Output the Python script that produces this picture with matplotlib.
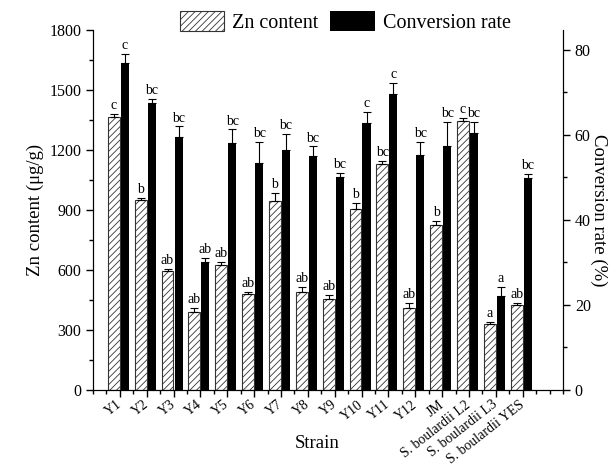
import matplotlib
matplotlib.use("Agg")
import matplotlib.pyplot as plt
import matplotlib.transforms as mtrans
import numpy as np
from matplotlib.ticker import MultipleLocator

plt.rcParams['font.family'] = ['Liberation Serif', 'DejaVu Serif']
plt.rcParams['hatch.linewidth'] = 0.6

# Data
strains = ["Y1", "Y2", "Y3", "Y4", "Y5", "Y6", "Y7", "Y8", "Y9", "Y10", "Y11", "Y12",
           "JM", "S. boulardii L2", "S. boulardii L3", "S. boulardii YES"]
zn_content = [1365, 950, 595, 392, 625, 480, 947, 492, 453, 903, 1128, 412, 825, 1345, 330, 423]
zn_err = [15, 10, 12, 17, 17, 12, 40, 25, 22, 30, 15, 22, 22, 13, 12, 10]
zn_letters = ["c", "b", "ab", "ab", "ab", "ab", "b", "ab", "ab", "b", "bc", "ab", "b", "c", "a", "ab"]
conv_rate = [77.0, 67.6, 59.5, 30.0, 58.2, 53.3, 56.5, 55.1, 50.0, 62.9, 69.6, 55.4, 57.4, 60.4, 22.2, 49.8]
conv_err = [2.0, 0.9, 2.5, 1.1, 3.1, 5.1, 3.7, 2.2, 1.0, 2.6, 2.7, 3.0, 5.7, 2.7, 2.1, 1.0]
conv_letters = ["c", "bc", "bc", "ab", "bc", "bc", "bc", "bc", "bc", "c", "c", "bc", "bc", "bc", "a", "bc"]

x = np.arange(1, len(strains) + 1)
zn_x = x - 0.225
cv_x = x + 0.185

fig = plt.figure(figsize=(6.13, 4.67), dpi=100)
ax = fig.add_axes([0.1517, 0.1649, 0.7667, 0.7709])
ax2 = ax.twinx()

ax.bar(zn_x, zn_content, width=0.44, color='white', edgecolor='#333333',
       linewidth=0.8, hatch='/////', label='Zn content', zorder=2)
ax.errorbar(zn_x, zn_content, yerr=[np.zeros(len(zn_err)), zn_err], fmt='none',
            ecolor='black', elinewidth=0.8, capsize=3, capthick=0.8, zorder=3)
for xi, v, e, t in zip(zn_x, zn_content, zn_err, zn_letters):
    ax.text(xi, v + e + 10, t, ha='center', va='bottom', fontsize=10)

ax2.bar(cv_x, conv_rate, width=0.3, color='black', label='Conversion rate', zorder=2)
ax2.errorbar(cv_x, conv_rate, yerr=[np.zeros(len(conv_err)), conv_err], fmt='none',
             ecolor='black', elinewidth=0.8, capsize=3, capthick=0.8, zorder=3)
for xi, v, e, t in zip(cv_x, conv_rate, conv_err, conv_letters):
    ax2.text(xi, v + e + 0.45, t, ha='center', va='bottom', fontsize=10)

ax.set_xlim(0, 17.5)
ax.set_ylim(0, 1800)
ax2.set_ylim(0, 84.7)

ax.yaxis.set_major_locator(MultipleLocator(300))
ax.yaxis.set_minor_locator(MultipleLocator(150))
ax2.yaxis.set_major_locator(MultipleLocator(20))
ax2.yaxis.set_minor_locator(MultipleLocator(10))
ax.xaxis.set_major_locator(MultipleLocator(1))
ax.xaxis.set_minor_locator(MultipleLocator(0.5))
ax.set_xticks(x)
ax.set_xticklabels(strains, rotation=38, ha='right', va='center', rotation_mode='anchor')
# shift rotated labels a little to the right, like the original
shift = mtrans.ScaledTranslation(5 / 72, 0, fig.dpi_scale_trans)
for lab in ax.get_xticklabels():
    lab.set_transform(lab.get_transform() + shift)

for a in (ax, ax2):
    a.spines['top'].set_visible(False)
    a.tick_params(which='major', direction='out', length=5, width=1, labelsize=11.5)
    a.tick_params(which='minor', direction='out', length=3, width=1)
ax.tick_params(axis='x', labelsize=10, pad=4.5)

ax.set_ylabel("Zn content (μg/g)", fontsize=13.5, labelpad=4)
ax2.set_ylabel("Conversion rate (%)", fontsize=13.5, rotation=270, labelpad=12)
ax.set_xlabel("Strain", fontsize=13.5)
ax.xaxis.set_label_coords(0.477, -0.125)

h1, l1 = ax.get_legend_handles_labels()
h2, l2 = ax2.get_legend_handles_labels()
fig.legend(h1 + h2, l1 + l2, loc='center', bbox_to_anchor=(0.563, 0.953), ncol=2,
           frameon=False, fontsize=14.5, handlelength=2.2, handleheight=1.1,
           columnspacing=0.6, handletextpad=0.4)

fig.savefig("out.png", dpi=100)
